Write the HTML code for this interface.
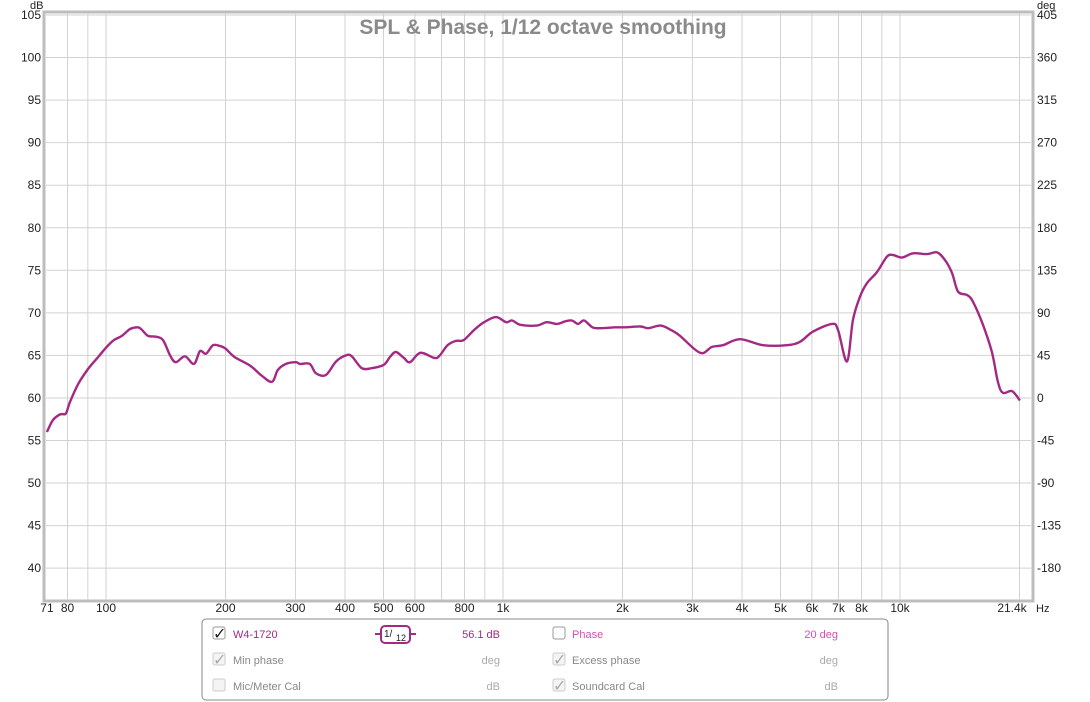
<!DOCTYPE html>
<html><head><meta charset="utf-8"><style>
body{margin:0;background:#fff;}
svg{display:block;font-family:"Liberation Sans",sans-serif;}
</style></head><body>
<svg width="1090" height="702" viewBox="0 0 1090 702">
<rect x="0" y="0" width="1090" height="702" fill="#fff"/>
<rect x="44" y="12" width="989" height="589" fill="#fff" stroke="#bdbdbd" stroke-width="3"/>
<g id="grid"></g>
<g id="axes"></g>
<path id="curve" fill="none" stroke="#a32a83" stroke-width="2.4" stroke-linejoin="round"/>
<text x="543" y="34" text-anchor="middle" font-size="21" font-weight="bold" fill="#8a8a8a">SPL &amp; Phase, 1/12 octave smoothing</text>
<text x="30" y="9" font-size="11" fill="#222">dB</text>
<text x="1037" y="9" font-size="11" fill="#222">deg</text>
<text x="1036" y="612" font-size="11" fill="#222">Hz</text>

<g font-size="11">
<rect x="202" y="619" width="686" height="81" rx="4" fill="#fff" stroke="#888"/>
<rect x="213" y="627" width="12" height="12" rx="2" fill="#fff" stroke="#999"/>
<text x="213" y="639" font-size="16" fill="#222">✓</text>
<text x="233" y="638" fill="#a32a83">W4-1720</text>
<g>
<line x1="375" y1="634" x2="416" y2="634" stroke="#a32a83" stroke-width="2"/>
<rect x="381" y="626" width="29" height="17" rx="4" fill="#fff" stroke="#a32a83" stroke-width="2"/>
<text x="384" y="637" font-size="10" fill="#222">1/</text><text x="396" y="641" font-size="9" fill="#222">12</text>
</g>
<text x="500" y="638" text-anchor="end" fill="#a32a83">56.1 dB</text>
<rect x="553" y="627" width="12" height="12" rx="2" fill="#fff" stroke="#999"/>
<text x="572" y="638" fill="#d24fb0">Phase</text>
<text x="838" y="638" text-anchor="end" fill="#d24fb0">20 deg</text>
<rect x="213" y="653" width="12" height="12" rx="2" fill="#f4f4f4" stroke="#ccc"/>
<text x="213" y="665" font-size="16" fill="#aaa">✓</text>
<text x="233" y="664" fill="#888">Min phase</text>
<text x="500" y="664" text-anchor="end" fill="#aaa">deg</text>
<rect x="553" y="653" width="12" height="12" rx="2" fill="#f4f4f4" stroke="#ccc"/>
<text x="553" y="665" font-size="16" fill="#aaa">✓</text>
<text x="572" y="664" fill="#888">Excess phase</text>
<text x="838" y="664" text-anchor="end" fill="#aaa">deg</text>
<rect x="213" y="679" width="12" height="12" rx="2" fill="#f4f4f4" stroke="#ccc"/>
<text x="233" y="690" fill="#888">Mic/Meter Cal</text>
<text x="500" y="690" text-anchor="end" fill="#aaa">dB</text>
<rect x="553" y="679" width="12" height="12" rx="2" fill="#f4f4f4" stroke="#ccc"/>
<text x="553" y="691" font-size="16" fill="#aaa">✓</text>
<text x="572" y="690" fill="#888">Soundcard Cal</text>
<text x="838" y="690" text-anchor="end" fill="#aaa">dB</text>
</g>
</svg>
<script>
const freqs=[71,73.5,76.1,77.5,79.3,81.1,85,90.1,95.5,100,104.7,109.7,115,120.4,123.2,127.6,133.6,139.2,145,150,158,166.6,172.5,178.6,186,193.7,200,211,230.6,247,262,271,284,301,308,326,338,358,380,402,416,441,467,501,519,537,563,583,619,672,693,725,761,796,846,896,960,1018,1054,1106,1215,1289,1367,1433,1490,1546,1601,1680,1763,1917,2031,2220,2322,2494,2646,2792,3136,3360,3581,3953,4518,5191,5600,6039,6743,6980,7352,7615,7930,8260,8750,9270,9600,10120,10790,11700,12400,12980,13520,14000,14750,15270,16180,17060,17660,18170,19150,20050];
const spl=[56.0,57.4,58.0,58.1,58.2,59.5,61.6,63.4,64.8,65.9,66.8,67.3,68.1,68.3,68.0,67.3,67.2,66.8,65.0,64.2,64.9,64.0,65.5,65.2,66.2,66.1,65.8,64.8,63.8,62.6,61.9,63.3,64.0,64.2,64.0,64.0,62.9,62.7,64.3,65.0,64.9,63.5,63.5,63.9,64.8,65.4,64.7,64.2,65.3,64.7,65.0,66.2,66.7,66.8,68.0,68.9,69.5,68.9,69.1,68.6,68.5,68.9,68.7,69.0,69.1,68.7,69.1,68.3,68.2,68.3,68.3,68.4,68.2,68.5,68.0,67.3,65.3,66.0,66.2,66.9,66.2,66.2,66.6,67.8,68.7,68.0,64.3,69.2,71.9,73.5,74.8,76.6,76.8,76.5,77.0,76.9,77.1,76.2,74.7,72.5,72.1,71.3,68.6,65.3,61.8,60.6,60.8,59.7];
const dbTicks=[105,100,95,90,85,80,75,70,65,60,55,50,45,40];
const degTicks=[405,360,315,270,225,180,135,90,45,0,-45,-90,-135,-180];
const gridFreqs=[80,90,100,200,300,400,500,600,700,800,900,1000,2000,3000,4000,5000,6000,7000,8000,9000,10000,20000];
const freqLabels=[71,80,100,200,300,400,500,600,800,1000,2000,3000,4000,5000,6000,7000,8000,10000];
const xS=f=>106+397*Math.log10(f/100);
const yS=d=>15+(105-d)*8.51;
const NS="http://www.w3.org/2000/svg";
const grid=document.getElementById('grid'),axes=document.getElementById('axes');
function mk(tag,attrs,parent){const e=document.createElementNS(NS,tag);for(const k in attrs)e.setAttribute(k,attrs[k]);parent.appendChild(e);return e;}
dbTicks.forEach((d,i)=>{
 const l=mk('line',{x1:46,x2:1031,y1:yS(d),y2:yS(d),stroke:'#d2d2d2','stroke-width':1},grid);
 
 
 const t=mk('text',{x:41,y:yS(d)+4,'text-anchor':'end','font-size':12,fill:'#222'},axes);
 t.textContent=d;
 
 
 const r=mk('text',{x:1037,y:yS(d)+4,'font-size':12,fill:'#222'},axes);
 r.textContent=degTicks[i];
 
 
});
gridFreqs.forEach(f=>{
 const l=mk('line',{x1:xS(f),x2:xS(f),y1:13,y2:600,stroke:'#d2d2d2','stroke-width':1},grid);
 
 
});
freqLabels.forEach(f=>{
 const t=mk('text',{x:xS(f),y:612,'text-anchor':'middle','font-size':12,fill:'#222'},axes);
 t.textContent=f>=1000?(f/1000)+'k':f;
 
 
});
const te=mk('text',{x:1012,y:612,'text-anchor':'middle','font-size':12,fill:'#222'},axes);
te.textContent='21.4k';


const pts=freqs.map((f,i)=>[xS(f),yS(spl[i])]);
let d='M'+pts[0][0].toFixed(1)+','+pts[0][1].toFixed(1);
for(let i=0;i<pts.length-1;i++){
 const p0=pts[Math.max(0,i-1)],p1=pts[i],p2=pts[i+1],p3=pts[Math.min(pts.length-1,i+2)];
 const c1x=p1[0]+(p2[0]-p0[0])/6,c1y=p1[1]+(p2[1]-p0[1])/6;
 const c2x=p2[0]-(p3[0]-p1[0])/6,c2y=p2[1]-(p3[1]-p1[1])/6;
 d+='C'+c1x.toFixed(1)+','+c1y.toFixed(1)+' '+c2x.toFixed(1)+','+c2y.toFixed(1)+' '+p2[0].toFixed(1)+','+p2[1].toFixed(1);
}
document.getElementById('curve').setAttribute('d',d);
</script>
</body></html>
